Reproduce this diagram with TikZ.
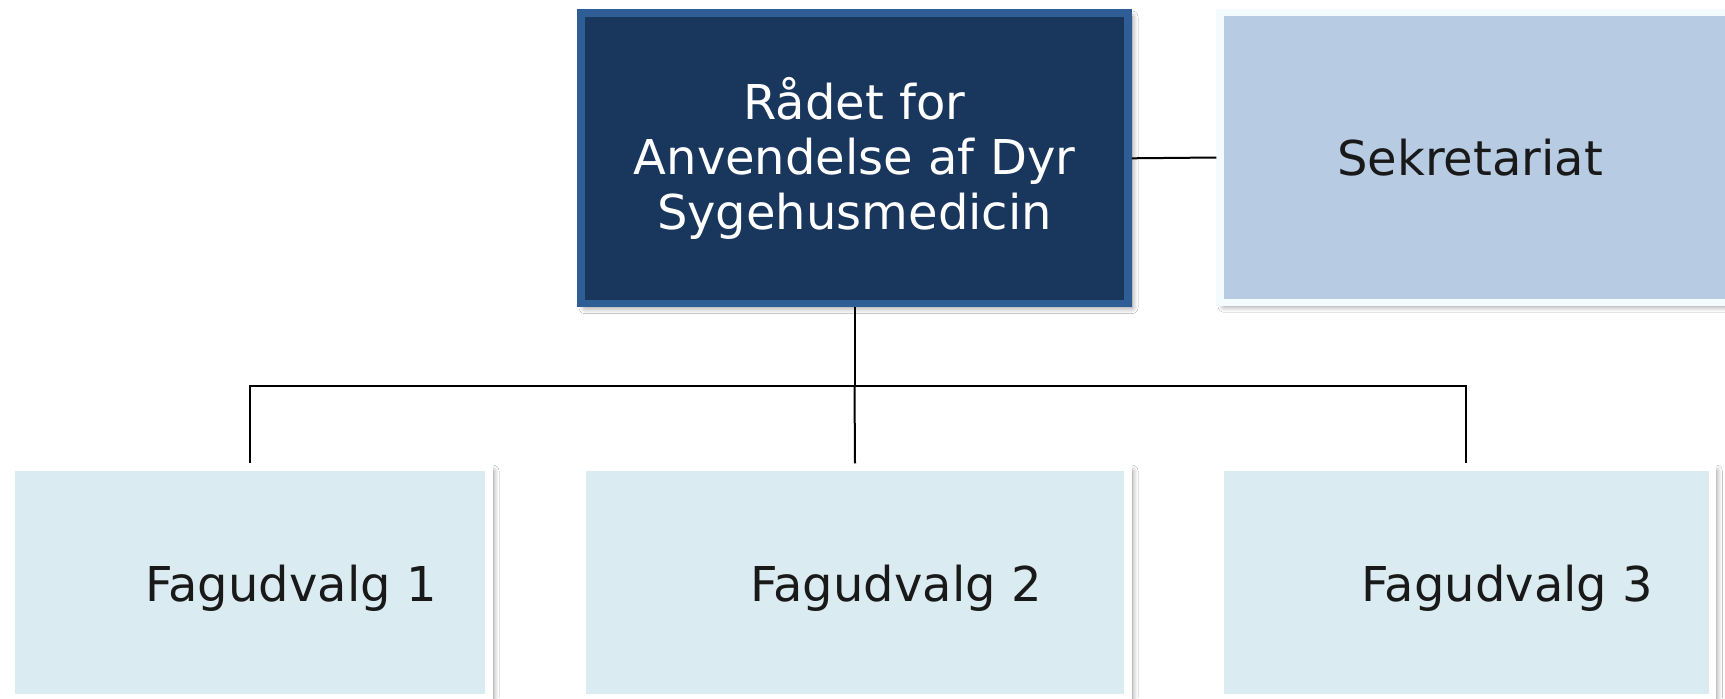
\documentclass[tikz,border=0pt]{standalone}
\usepackage{fontspec}
\setmainfont{DejaVu Sans}
\usetikzlibrary{calc,positioning,shadows.blur}

\definecolor{raadfill}{RGB}{25,54,93}
\definecolor{raadline}{RGB}{47,93,150}
\definecolor{sekfill}{RGB}{183,203,226}
\definecolor{sekline}{RGB}{243,251,253}
\definecolor{fagfill}{RGB}{218,235,242}

\newcommand{\fagtekst}[1]{\hspace*{41pt}\raisebox{-9.75pt}[0pt][0pt]{#1}}

\tikzset{
  boks/.style={rectangle, inner sep=0pt, line width=3.75pt, align=center,
    font=\fontsize{24}{27.5}\selectfont,
    blur shadow={shadow xshift=2pt, shadow yshift=-2pt, shadow blur radius=3pt,
      shadow blur steps=12, shadow opacity=45}},
  raad/.style={boks, fill=raadfill, draw=raadline, text=white},
  sek/.style={boks, fill=sekfill, draw=sekline, text=black!90},
  fag/.style={boks, fill=fagfill, draw=white, text=black!90,
    minimum height=115.1pt},
  forb/.style={draw=black, line width=1pt}
}

\begin{document}
\begin{tikzpicture}[x=0.5pt,y=0.5pt]

    \clip (0,0) rectangle (1725,698);
    \fill[white] (0,0) rectangle (1725,698);

    \node[raad, minimum width=273.5pt, minimum height=145.3pt] (raad) at (854.5,539.7)
        {Rådet for\\Anvendelse af Dyr\\Sygehusmedicin};
    \node[sek, minimum width=258pt, minimum height=144.75pt] (sek) at (1478,540.5)
        {\hspace*{-8pt}Sekretariat};

	\node[fag, minimum width=239pt] (fag1) at (250,115.8) {\fagtekst{Fagudvalg 1}};
	\node[fag, minimum width=273pt] (fag2) at (855,115.8) {\fagtekst{Fagudvalg 2}};
	\node[fag, minimum width=245.9pt] (fag3) at (1466.35,115.8) {\fagtekst{Fagudvalg 3}};

    \coordinate (gren) at (854.5,312.5); % vandret linje

    \draw[forb] (raad.east) -- (sek.west);
    \draw[forb] (raad.south) -- (gren) -| (fag1.north);
    \draw[forb] (gren) -| (fag3.north);
    \draw[forb] (gren) -- (fag2.north);

  \end{tikzpicture}
\end{document}
